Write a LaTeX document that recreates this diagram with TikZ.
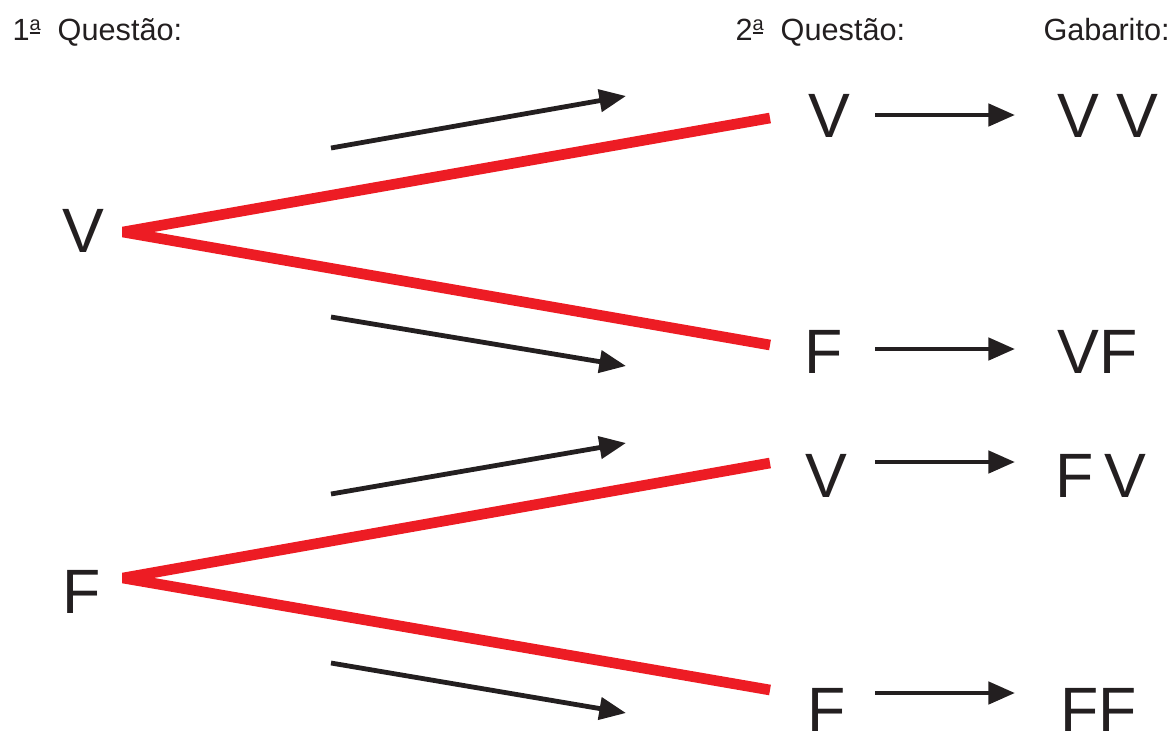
\documentclass[tikz,border=0pt]{standalone}
\usepackage{fontspec}
\setmainfont{Liberation Sans}
\usetikzlibrary{arrows.meta}

\definecolor{ramored}{HTML}{ED1C24}
\definecolor{tinta}{HTML}{231F20}

% underlined ordinal a
\newcommand{\ordfem}{\raisebox{7.5pt}{\fontsize{15}{15}\selectfont\rlap{\rule[-3pt]{0.52em}{1.4pt}}a}}

\tikzset{every picture/.style={line width=0.75pt}}
\tikzset{
  ramo/.style={draw=ramored, line width=8pt, line join=bevel},
  seta/.style={draw=tinta, line width=3.6pt, -{Triangle[length=20pt,width=16.5pt]}},
  titulo/.style={anchor=base west, inner sep=0pt, text=tinta, font=\fontsize{23}{23}\selectfont},
  letra/.style={anchor=base west, inner sep=0pt, text=tinta, font=\fontsize{47}{47}\selectfont},
}

\begin{document}
\begin{tikzpicture}[x=0.75pt,y=0.75pt,yscale=-1,xscale=1]
%set diagram size to 1174 x 733
\clip (0,0) rectangle (1174,733);

% Text Node
\node (q1) at (12,40) [titulo] {1\ordfem\ \ Questão:};
% Text Node
\node (q2) at (735,40) [titulo] {2\ordfem\ \ Questão:};
% Text Node
\node (gab) at (1043,40) [titulo] {Gabarito:};

% Text Node
\node (av) at (62,252) [letra] {V};
% Text Node
\node (af) at (62,613) [letra] {F};
% Text Node
\node (bvv) at (808,137) [letra] {V};
% Text Node
\node (bvf) at (804,373) [letra] {F};
% Text Node
\node (bfv) at (805,497) [letra] {V};
% Text Node
\node (bff) at (807,731) [letra] {F};
% Text Node
\node (gvv) at (1057,137) [letra] {V V};
% Text Node
\node (gvf) at (1057,373) [letra] {VF};
% Text Node
\node (gfv) at (1055,497) [letra] {F\,V};
% Text Node
\node (gff) at (1060,731) [letra] {FF};

% branch ends
\coordinate (pv) at (123,232);
\coordinate (pf) at (123,578);
\coordinate (pvv) at (770,118);
\coordinate (pvf) at (770,345);
\coordinate (pfv) at (770,463);
\coordinate (pff) at (770,690);

%Straight Lines
\draw [ramo] (pvv) -- (pv) -- (pvf) ;
%Straight Lines
\draw [ramo] (pfv) -- (pf) -- (pff) ;

% diagonal arrows
\coordinate (d1a) at (331,148);  \coordinate (d1b) at (626,96);
\coordinate (d2a) at (331,317);  \coordinate (d2b) at (626,366);
\coordinate (d3a) at (331,494);  \coordinate (d3b) at (626,443);
\coordinate (d4a) at (331,663);  \coordinate (d4b) at (626,713);

%Straight Lines
\draw [seta] (d1a) -- (d1b) ;
%Straight Lines
\draw [seta] (d2a) -- (d2b) ;
%Straight Lines
\draw [seta] (d3a) -- (d3b) ;
%Straight Lines
\draw [seta] (d4a) -- (d4b) ;

% arrows to the answer key
\coordinate (h1a) at (875,115);  \coordinate (h1b) at (1015,115);
\coordinate (h2a) at (875,349);  \coordinate (h2b) at (1015,349);
\coordinate (h3a) at (875,462);  \coordinate (h3b) at (1015,462);
\coordinate (h4a) at (875,693);  \coordinate (h4b) at (1015,693);

%Straight Lines
\draw [seta] (h1a) -- (h1b) ;
%Straight Lines
\draw [seta] (h2a) -- (h2b) ;
%Straight Lines
\draw [seta] (h3a) -- (h3b) ;
%Straight Lines
\draw [seta] (h4a) -- (h4b) ;
\end{tikzpicture}
\end{document}
